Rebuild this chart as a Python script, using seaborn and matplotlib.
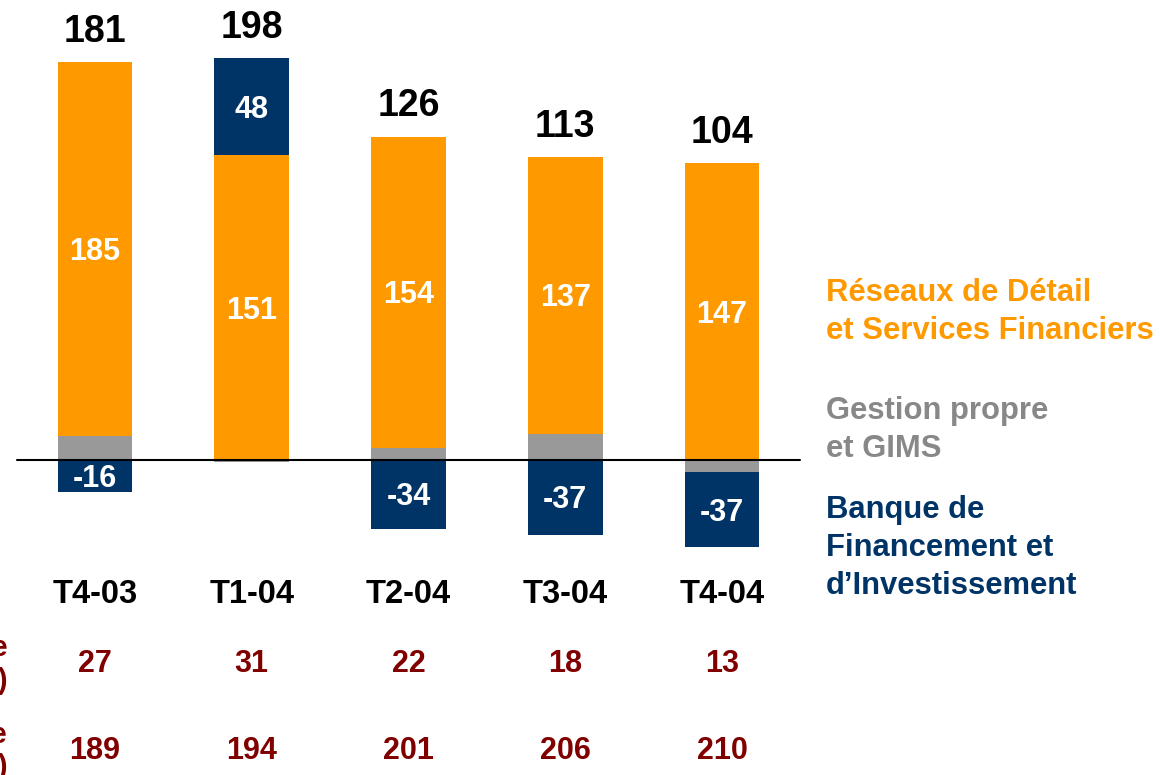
import numpy as np
import pandas as pd
import matplotlib
matplotlib.use("Agg")
import matplotlib.pyplot as plt
import seaborn as sns

# ---- data ----
categories = ["T4-03", "T1-04", "T2-04", "T3-04", "T4-04"]
reseaux = [185, 151, 154, 137, 147]          # orange
gestion = [12, -1, 6, 13, -6]                # gray
bfi = [-16, 48, -34, -37, -37]               # navy
totals = [181, 198, 126, 113, 104]
row1 = [27, 31, 22, 18, 13]
row2 = [189, 194, 201, 206, 210]
row_labels = ["Coût du risque\n(en M EUR)", "Valeur en risque moyenne\n(en M EUR)"]
series_names = ["Réseaux de Détail\net Services Financiers",
                "Gestion propre\net GIMS",
                "Banque de\nFinancement et\nd\u2019Investissement"]

ORANGE = "#FF9900"
GRAY = "#999999"
NAVY = "#003366"
DARKRED = "#800000"

sns.set_theme(style="white")
plt.rcParams["font.family"] = ["Liberation Sans", "DejaVu Sans"]
plt.rcParams["font.weight"] = "bold"

fig = plt.figure(figsize=(11.6, 7.75), dpi=100)
ax = fig.add_axes([0, 0, 1, 1])

# stacking: gray next to zero, then orange, then navy
layers = [("gestion", gestion, GRAY), ("reseaux", reseaux, ORANGE), ("bfi", bfi, NAVY)]
pos = np.zeros(len(categories))
neg = np.zeros(len(categories))
segments = {}
for name, vals, col in layers:
    v = np.array(vals, dtype=float)
    bottoms = np.where(v >= 0, pos, neg)
    df = pd.DataFrame({"cat": categories, "val": v})
    sns.barplot(data=df, x="cat", y="val", order=categories, color=col,
                saturation=1, width=0.478, bottom=bottoms, ax=ax,
                edgecolor="none", linewidth=0, errorbar=None)
    segments[name] = (bottoms.copy(), v)
    pos = np.where(v >= 0, pos + v, pos)
    neg = np.where(v < 0, neg + v, neg)

ax.plot([-0.5, 4.5], [0, 0], color="black", lw=1.5, zorder=5)

x = np.arange(len(categories))
# labels inside segments
for name, tc in [("reseaux", "white"), ("bfi", "white")]:
    b, v = segments[name]
    for i in range(len(categories)):
        if abs(v[i]) >= 10:
            ax.text(x[i], b[i] + v[i] / 2 - 1.5, f"{int(v[i])}", ha="center", va="center",
                    color=tc, fontsize=22, fontweight="bold", zorder=6)

# totals above bars
for i in range(len(categories)):
    ax.text(x[i], pos[i] + 15, f"{totals[i]}", ha="center", va="center",
            color="black", fontsize=27, fontweight="bold")

# category labels
for i, c in enumerate(categories):
    ax.text(x[i], -66.4, c, ha="center", va="center", color="black",
            fontsize=23.5, fontweight="bold")

# bottom rows
for i in range(len(categories)):
    ax.text(x[i], -101, f"{row1[i]}", ha="center", va="center", color=DARKRED,
            fontsize=22, fontweight="bold")
    ax.text(x[i], -144.1, f"{row2[i]}", ha="center", va="center", color=DARKRED,
            fontsize=22, fontweight="bold")
for lab, yy in zip(row_labels, [-101, -144.1]):
    ax.text(-0.56, yy, lab, ha="right", va="center", multialignment="right",
            color=DARKRED, fontsize=21, fontweight="bold", linespacing=1.2)

# legend-like labels
for lab, yy, col in zip(series_names, [73.3, 14.9, -43.6], [ORANGE, "#888888", NAVY]):
    ax.text(4.663, yy, lab, ha="left", va="center", color=col,
            fontsize=22.3, fontweight="bold", linespacing=1.36)

ax.set_xlim(-0.606, 6.794)
ax.set_ylim(-155.9, 227.7)
ax.axis("off")

fig.savefig("out.png", dpi=100)
